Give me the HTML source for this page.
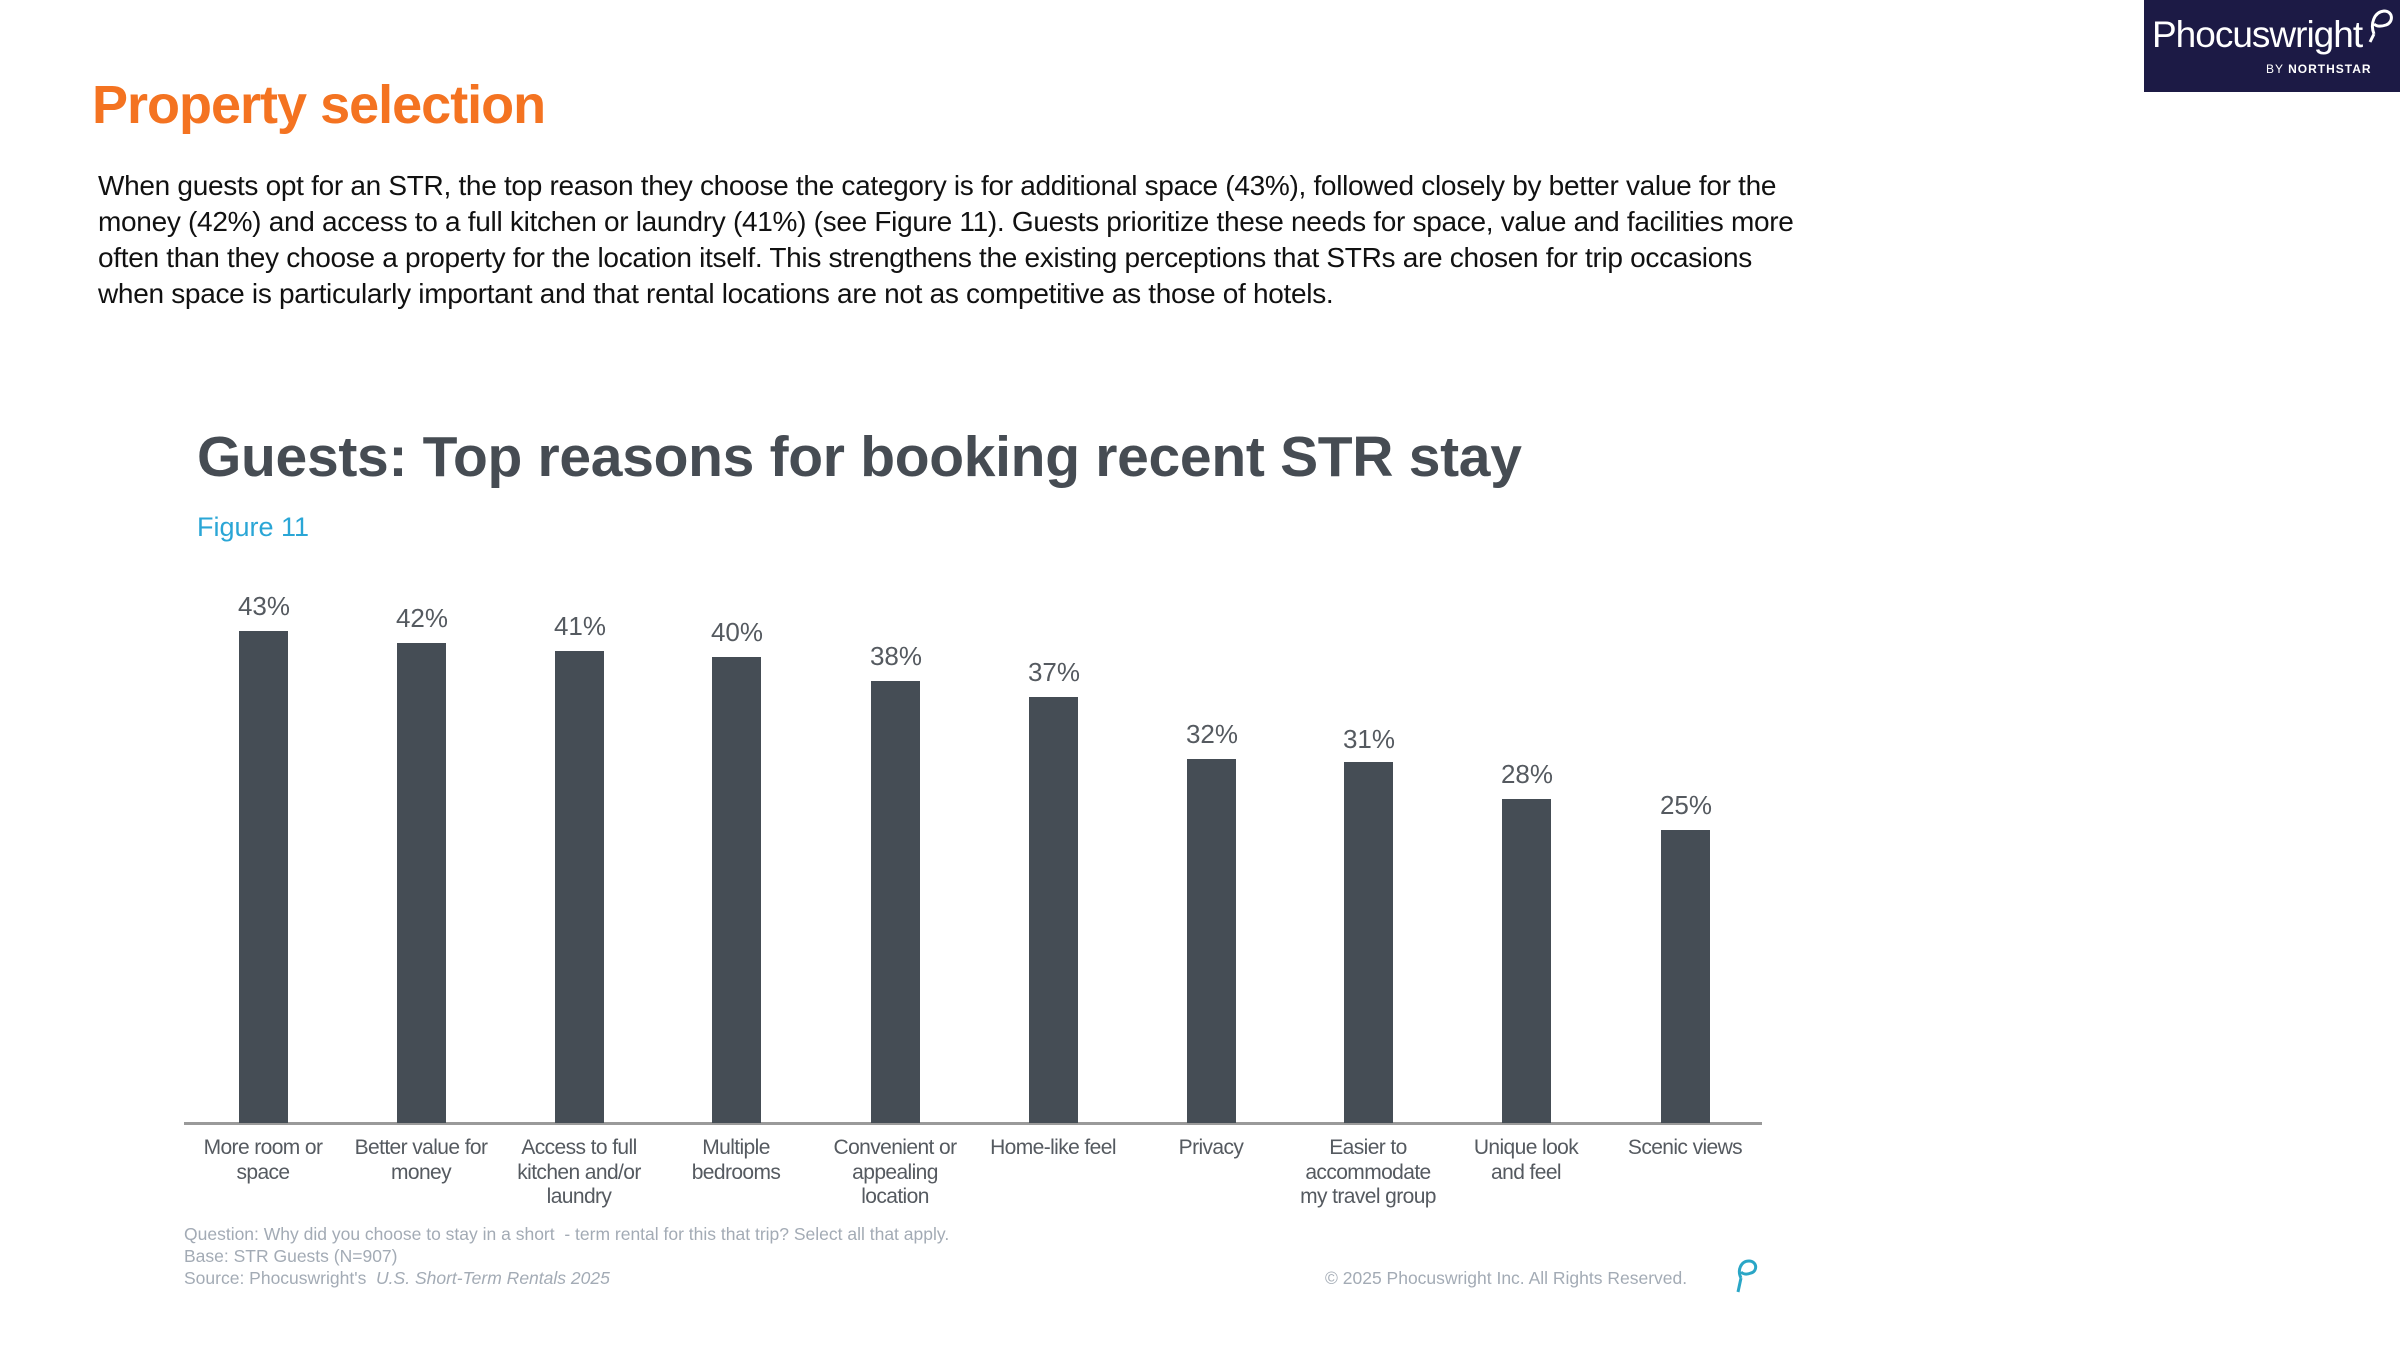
<!DOCTYPE html>
<html><head><meta charset="utf-8"><style>
html,body{margin:0;padding:0;background:#fff;}
body{width:2400px;height:1350px;position:relative;overflow:hidden;font-family:"Liberation Sans",Arial,sans-serif;}
.abs{position:absolute;white-space:nowrap;}
#logo{position:absolute;left:2144px;top:0;width:256px;height:92px;background:#1c1a45;}
#title{left:92px;top:74px;font-size:54px;font-weight:bold;color:#f47321;font-family:"Liberation Sans",sans-serif;letter-spacing:-1px;}
.p{left:98px;font-size:28px;color:#111;letter-spacing:-0.3px;}
#ct{left:197px;top:424px;font-size:57px;font-weight:bold;color:#464c53;letter-spacing:-0.3px;}
#fig{left:197px;top:512px;font-size:27px;color:#2aa6d6;}
.bar{position:absolute;width:49px;background:#454d55;}
.v{position:absolute;width:120px;text-align:center;font-size:26px;color:#555a60;}
.c{position:absolute;width:170px;text-align:center;font-size:21px;line-height:24.5px;color:#555a60;letter-spacing:-0.6px;}
.f{left:184px;font-size:17.5px;color:#a3abb5;letter-spacing:0;}
</style></head><body>
<div id="logo">
<div class="abs" style="left:8px;top:14px;font-size:37px;color:#fff;letter-spacing:-1px;">Phocuswright</div>
<svg class="abs" style="left:222px;top:6px" width="32" height="40"><path d="M8 28 C4 18 8 6 18 5 C27 5 28 16 20 19 C14 21 10 20 8 18 M8 28 L4 36" stroke="#fff" stroke-width="3" fill="none"/></svg>
<div class="abs" style="left:122px;top:62px;font-size:12px;color:#fff;letter-spacing:1px;">BY <b>NORTHSTAR</b></div>
</div>
<div id="title" class="abs">Property selection</div>
<div class="abs p" style="top:170px">When guests opt for an STR, the top reason they choose the category is for additional space (43%), followed closely by better value for the</div>
<div class="abs p" style="top:206px">money (42%) and access to a full kitchen or laundry (41%) (see Figure 11). Guests prioritize these needs for space, value and facilities more</div>
<div class="abs p" style="top:242px">often than they choose a property for the location itself. This strengthens the existing perceptions that STRs are chosen for trip occasions</div>
<div class="abs p" style="top:278px">when space is particularly important and that rental locations are not as competitive as those of hotels.</div>
<div id="ct" class="abs">Guests: Top reasons for booking recent STR stay</div>
<div id="fig" class="abs">Figure 11</div>
<div class="abs" style="left:184px;top:1122px;width:1578px;height:3px;background:#9a9a9a;"></div>

<div class="bar" style="left:239px;top:631px;height:492px"></div>
<div class="bar" style="left:397px;top:643px;height:480px"></div>
<div class="bar" style="left:555px;top:651px;height:472px"></div>
<div class="bar" style="left:712px;top:657px;height:466px"></div>
<div class="bar" style="left:871px;top:681px;height:442px"></div>
<div class="bar" style="left:1029px;top:697px;height:426px"></div>
<div class="bar" style="left:1187px;top:759px;height:364px"></div>
<div class="bar" style="left:1344px;top:762px;height:361px"></div>
<div class="bar" style="left:1502px;top:799px;height:324px"></div>
<div class="bar" style="left:1661px;top:830px;height:293px"></div>

<div class="v" style="left:204px;top:591px">43%</div>
<div class="v" style="left:362px;top:603px">42%</div>
<div class="v" style="left:520px;top:611px">41%</div>
<div class="v" style="left:677px;top:617px">40%</div>
<div class="v" style="left:836px;top:641px">38%</div>
<div class="v" style="left:994px;top:657px">37%</div>
<div class="v" style="left:1152px;top:719px">32%</div>
<div class="v" style="left:1309px;top:724px">31%</div>
<div class="v" style="left:1467px;top:759px">28%</div>
<div class="v" style="left:1626px;top:790px">25%</div>

<div class="c" style="left:178px;top:1136px">More room or<br>space</div>
<div class="c" style="left:336px;top:1136px">Better value for<br>money</div>
<div class="c" style="left:494px;top:1136px">Access to full<br>kitchen and/or<br>laundry</div>
<div class="c" style="left:651px;top:1136px">Multiple<br>bedrooms</div>
<div class="c" style="left:810px;top:1136px">Convenient or<br>appealing<br>location</div>
<div class="c" style="left:968px;top:1136px">Home-like feel</div>
<div class="c" style="left:1126px;top:1136px">Privacy</div>
<div class="c" style="left:1283px;top:1136px">Easier to<br>accommodate<br>my travel group</div>
<div class="c" style="left:1441px;top:1136px">Unique look<br>and feel</div>
<div class="c" style="left:1600px;top:1136px">Scenic views</div>

<div class="abs f" style="top:1224px">Question: Why did you choose to stay in a short &nbsp;- term rental for this that trip? Select all that apply.</div>
<div class="abs f" style="top:1246px">Base: STR Guests (N=907)</div>
<div class="abs f" style="top:1268px">Source: Phocuswright's &nbsp;<i>U.S. Short-Term Rentals 2025</i></div>
<div class="abs f" style="left:1325px;top:1268px">© 2025 Phocuswright Inc. All Rights Reserved.</div>
<svg class="abs" style="left:1732px;top:1258px" width="30" height="40"><path d="M9 20 C5 12 9 3 17 3 C25 3 26 13 19 15 C14 17 11 16 9 14 M9 20 L6 34" stroke="#2aa6c6" stroke-width="3" fill="none"/></svg>
</body></html>
